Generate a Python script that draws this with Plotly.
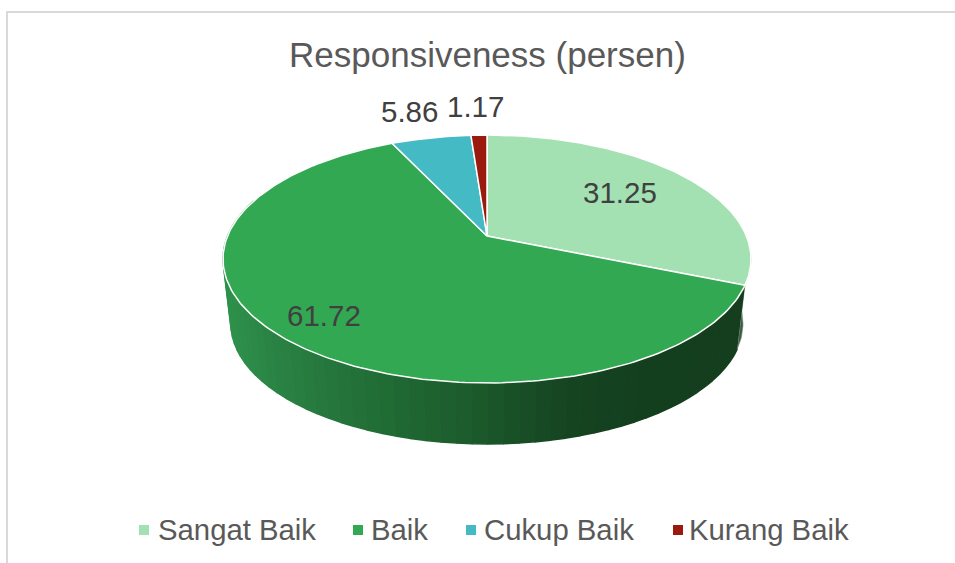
import numpy as np
import plotly.graph_objects as go

# --- Data ---
categories = ["Sangat Baik", "Baik", "Cukup Baik", "Kurang Baik"]
values = [31.25, 61.72, 5.86, 1.17]
slice_colors = ["#A3E0B2", "#32A852", "#43BAC4", "#9A1A0E"]
title_text = "Responsiveness (persen)"

# --- Projection of the tilted disc (circle -> perspective ellipse) ---
APEX_X, APEX_Y = 487.0, 236.0
SCALE_X, SCALE_Y, PERSPECTIVE = 259.4, 119.7, 0.1855
BASE_SCALE, BASE_DROP = 0.97, 65.4


def project(theta, base=False):
    """theta in radians, clockwise from 12 o'clock."""
    cx, cy = np.sin(theta), np.cos(theta)
    d = 1 + PERSPECTIVE * cy
    u, v = SCALE_X * cx / d, SCALE_Y * cy / d
    if base:
        return APEX_X + BASE_SCALE * u, APEX_Y + BASE_DROP - BASE_SCALE * v
    return APEX_X + u, APEX_Y - v


# wall shading: screen x -> colour
shade_x = [225, 300, 400, 487, 560, 640, 750]
shade_r = [47, 40, 33, 27, 22, 20, 20]
shade_g = [146, 125, 105, 88, 70, 64, 62]
shade_b = [76, 65, 52, 43, 34, 31, 30]

cum = np.concatenate([[0], np.cumsum(values)]) / sum(values) * 2 * np.pi

fig = go.Figure()

# Sliver of the first slice's wall at the far right
tt = np.linspace(0.5 * np.pi, cum[1], 20)
xt, yt = project(tt)
xb, yb = project(tt[::-1], base=True)
fig.add_trace(go.Scatter(
    x=np.concatenate([xt, xb]), y=np.concatenate([yt, yb]),
    mode="lines", fill="toself", fillcolor="#3c5a44",
    line=dict(color="#8f9f93", width=0.6), hoverinfo="skip", showlegend=False))

# Wall of the large slice, drawn as thin shaded bands overlapping one another
band_edges = np.linspace(cum[1], 1.60 * np.pi, 61)
for t0, t1 in zip(band_edges[:-1], band_edges[1:]):
    tt = np.linspace(t0, t1, 4)
    xt, yt = project(tt)
    xb, yb = project(tt[::-1], base=True)
    mx = (xt.mean() + xb.mean()) / 2
    col = "rgb(%d,%d,%d)" % (
        np.interp(mx, shade_x, shade_r),
        np.interp(mx, shade_x, shade_g),
        np.interp(mx, shade_x, shade_b),
    )
    fig.add_trace(go.Scatter(
        x=np.concatenate([xt, xb]), y=np.concatenate([yt, yb]),
        mode="lines", fill="toself", fillcolor=col,
        line=dict(color=col, width=1.5), hoverinfo="skip", showlegend=False))

# Top faces
for i, name in enumerate(categories):
    tt = np.linspace(cum[i], cum[i + 1], 200)
    xt, yt = project(tt)
    fig.add_trace(go.Scatter(
        x=np.concatenate([[APEX_X], xt, [APEX_X]]),
        y=np.concatenate([[APEX_Y], yt, [APEX_Y]]),
        mode="lines", fill="toself", fillcolor=slice_colors[i],
        line=dict(color="white", width=1.5), name=name,
        hoverinfo="name", showlegend=False))

# Legend row
legend_marker_x = [144, 358, 471, 678]
legend_text_x = [156, 369, 482, 687]
LEGEND_Y = 530
LEGEND_TEXT_Y = 529
fig.add_trace(go.Scatter(
    x=legend_marker_x, y=[LEGEND_Y] * 4, mode="markers",
    marker=dict(symbol="square", size=10, color=slice_colors),
    hoverinfo="skip", showlegend=False))

FONT = "Liberation Sans"
annotations = []
for x, name in zip(legend_text_x, categories):
    annotations.append(dict(x=x, y=LEGEND_TEXT_Y, text=name, xanchor="left", yanchor="middle",
                            showarrow=False, font=dict(family=FONT, size=29.3, color="#595959")))
label_x = [620, 324, 409.5, 475]
label_y = [192, 315, 111, 106]
for x, y, v in zip(label_x, label_y, values):
    annotations.append(dict(x=x, y=y, text=f"{v:.2f}", xanchor="center", yanchor="middle",
                            showarrow=False, font=dict(family=FONT, size=29.5, color="#404040")))
annotations.append(dict(x=487, y=54, text=title_text, xanchor="center", yanchor="middle",
                        showarrow=False, font=dict(family=FONT, size=35, color="#595959")))

frame = dict(color="#D9D9D9", width=2)
fig.update_layout(
    width=955, height=563, margin=dict(l=0, r=0, t=0, b=0),
    paper_bgcolor="white", plot_bgcolor="white", showlegend=False,
    xaxis=dict(range=[0, 955], visible=False, fixedrange=True),
    yaxis=dict(range=[563, 0], visible=False, fixedrange=True),
    annotations=annotations,
    shapes=[
        dict(type="line", x0=6.5, y0=12, x1=955, y1=12, line=frame),
        dict(type="line", x0=7, y0=11, x1=7, y1=563, line=frame),
    ],
)
fig.write_html("out.html", config={"displayModeBar": False},
               post_script="document.body.style.margin='0';document.body.style.overflow='hidden';")
